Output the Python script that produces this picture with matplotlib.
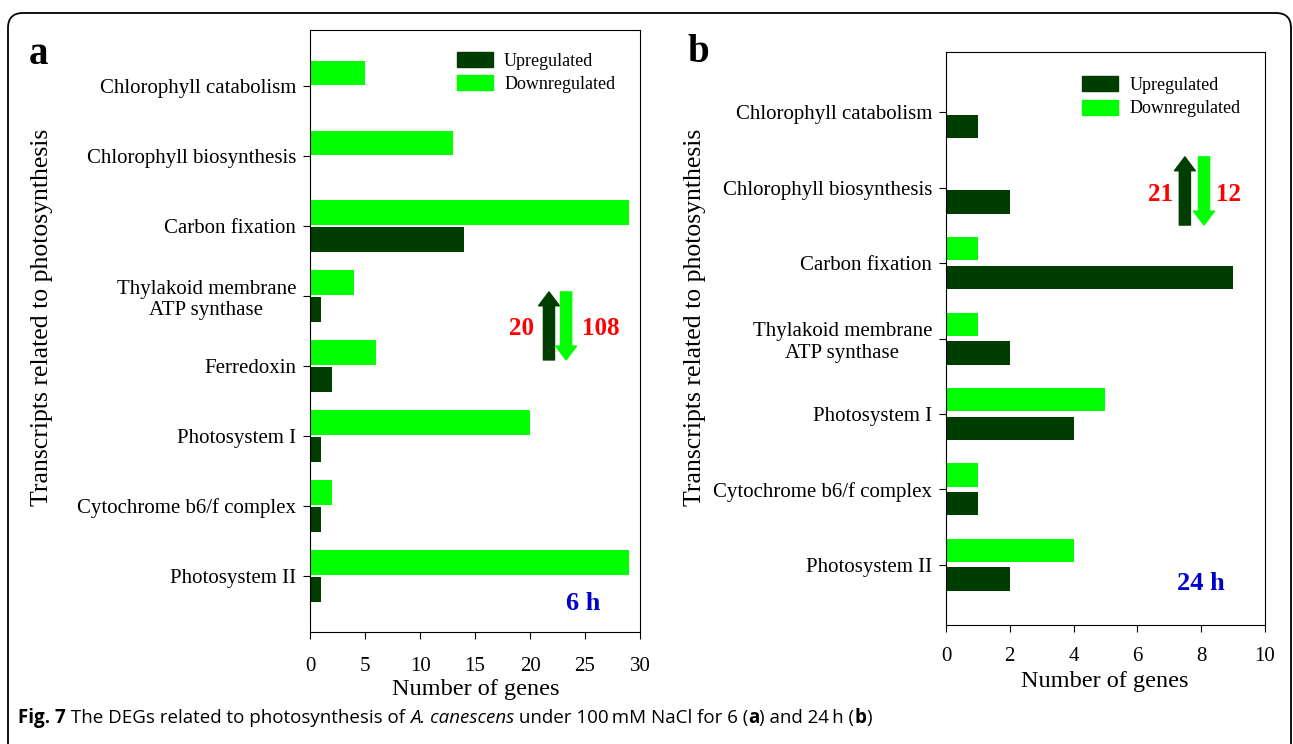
import matplotlib
matplotlib.use("Agg")
import matplotlib.pyplot as plt
from matplotlib.patches import FancyBboxPatch, Patch
import numpy as np

# panel a: 6 h
cats_a = ["Chlorophyll catabolism", "Chlorophyll biosynthesis", "Carbon fixation",
          "Thylakoid membrane\nATP synthase", "Ferredoxin", "Photosystem I",
          "Cytochrome b6/f complex", "Photosystem II"]
up_a = [0, 0, 14, 1, 2, 1, 1, 1]
down_a = [5, 13, 29, 4, 6, 20, 2, 29]

# panel b: 24 h
cats_b = ["Chlorophyll catabolism", "Chlorophyll biosynthesis", "Carbon fixation",
          "Thylakoid membrane\nATP synthase", "Photosystem I",
          "Cytochrome b6/f complex", "Photosystem II"]
up_b = [1, 2, 9, 2, 4, 1, 2]
down_b = [0, 0, 1, 1, 5, 1, 4]

# caption pieces: (text, weight, style)
caption = [("Fig. 7", "bold", "normal"),
           (" The DEGs related to photosynthesis of ", "normal", "normal"),
           ("A. canescens", "normal", "italic"),
           (" under 100\u2009mM NaCl for 6 (", "normal", "normal"),
           ("a", "bold", "normal"),
           (") and 24\u2009h (", "normal", "normal"),
           ("b", "bold", "normal"),
           (")", "normal", "normal")]

dark = "#003d00"
light = "#00ff00"

plt.rcParams["font.family"] = "Liberation Serif"

fig = plt.figure(figsize=(12.93, 7.44), dpi=100)

def panel(rect, cats, up, down, xmax, xstep, h, off, leg_anchor, arrows, tag_pos, tag, xpad):
    ax = fig.add_axes(rect)
    y = np.arange(len(cats))
    ax.barh(y - off, down, height=h, color=light, label="Downregulated")
    ax.barh(y + off, up, height=h, color=dark, label="Upregulated")
    ax.set_ylim(len(cats) - 1 + 0.8, -0.8)
    ax.set_xlim(0, xmax)
    ax.set_xticks(np.arange(0, xmax + 0.1, xstep))
    ax.set_yticks(y)
    ax.set_yticklabels(cats, fontsize=15, multialignment="center")
    ax.tick_params(axis="x", labelsize=15, direction="out", length=5, pad=xpad)
    ax.tick_params(axis="y", direction="out", length=5, pad=5)
    handles = [Patch(color=dark), Patch(color=light)]
    ax.legend(handles, ["Upregulated", "Downregulated"], loc="upper left",
              bbox_to_anchor=leg_anchor, frameon=False, fontsize=13,
              handlelength=2.0, handleheight=0.9, labelspacing=0.3,
              handletextpad=0.6, borderaxespad=0)
    (xu, xd, y0, y1, xl, xr, ly, nu, nd) = arrows
    ax.annotate("", xy=(xu, y1), xytext=(xu, y0), xycoords="axes fraction",
                arrowprops=dict(facecolor=dark, edgecolor=dark, width=8,
                                headwidth=15, headlength=10, shrink=0))
    ax.annotate("", xy=(xd, y0), xytext=(xd, y1), xycoords="axes fraction",
                arrowprops=dict(facecolor=light, edgecolor=light, width=8,
                                headwidth=15, headlength=10, shrink=0))
    ax.text(xl, ly, nu, transform=ax.transAxes, color="red", fontsize=18,
            fontweight="bold", ha="center", va="center")
    ax.text(xr, ly, nd, transform=ax.transAxes, color="red", fontsize=18,
            fontweight="bold", ha="center", va="center")
    ax.text(tag_pos[0], tag_pos[1], tag, transform=ax.transAxes, color="#0000cc",
            fontsize=19, fontweight="bold", ha="center", va="center")
    return ax

ax1 = panel([0.2398, 0.1505, 0.2552, 0.8091], cats_a, up_a, down_a, 30, 5, 0.35, 0.19,
            (0.424, 0.975), (0.724, 0.776, 0.452, 0.565, 0.642, 0.882, 0.505, "20", "108"),
            (0.827, 0.048), "6 h", 13)
ax2 = panel([0.7316, 0.1599, 0.2467, 0.7702], cats_b, up_b, down_b, 10, 2, 0.31, 0.19,
            (0.405, 0.97), (0.749, 0.809, 0.698, 0.817, 0.674, 0.887, 0.752, "21", "12"),
            (0.799, 0.073), "24 h", 11)

fig.text(42 / 1293, 0.574, "Transcripts related to photosynthesis", rotation=90,
         fontsize=18.5, ha="center", va="center")
fig.text(695 / 1293, 0.574, "Transcripts related to photosynthesis", rotation=90,
         fontsize=18.5, ha="center", va="center")
fig.text(476 / 1293, 1 - 690 / 744, "Number of genes", fontsize=17.5, ha="center", va="center")
fig.text(1105 / 1293, 1 - 682 / 744, "Number of genes", fontsize=17.5, ha="center", va="center")

fig.text(38 / 1293, 1 - 54 / 744, "a", fontsize=28, fontweight="bold", ha="center", va="center")
fig.text(698 / 1293, 1 - 52 / 744, "b", fontsize=28, fontweight="bold", ha="center", va="center")

# caption, drawn piece by piece
renderer = fig.canvas.get_renderer()
x = 18 / 1293
for txt, wt, st in caption:
    t = fig.text(x, 1 - 718 / 744, txt, fontsize=13.5, family=["Open Sans", "DejaVu Sans"],
                 fontweight=wt, fontstyle=st, ha="left", va="center")
    bb = t.get_window_extent(renderer)
    x += bb.width / fig.bbox.width

frame = FancyBboxPatch((0.08, -0.5), 12.83, 7.81,
                       boxstyle="round,pad=0,rounding_size=0.15",
                       transform=fig.dpi_scale_trans, fill=False, lw=1.3, ec="black")
fig.add_artist(frame)

fig.savefig("out.png", dpi=100)
